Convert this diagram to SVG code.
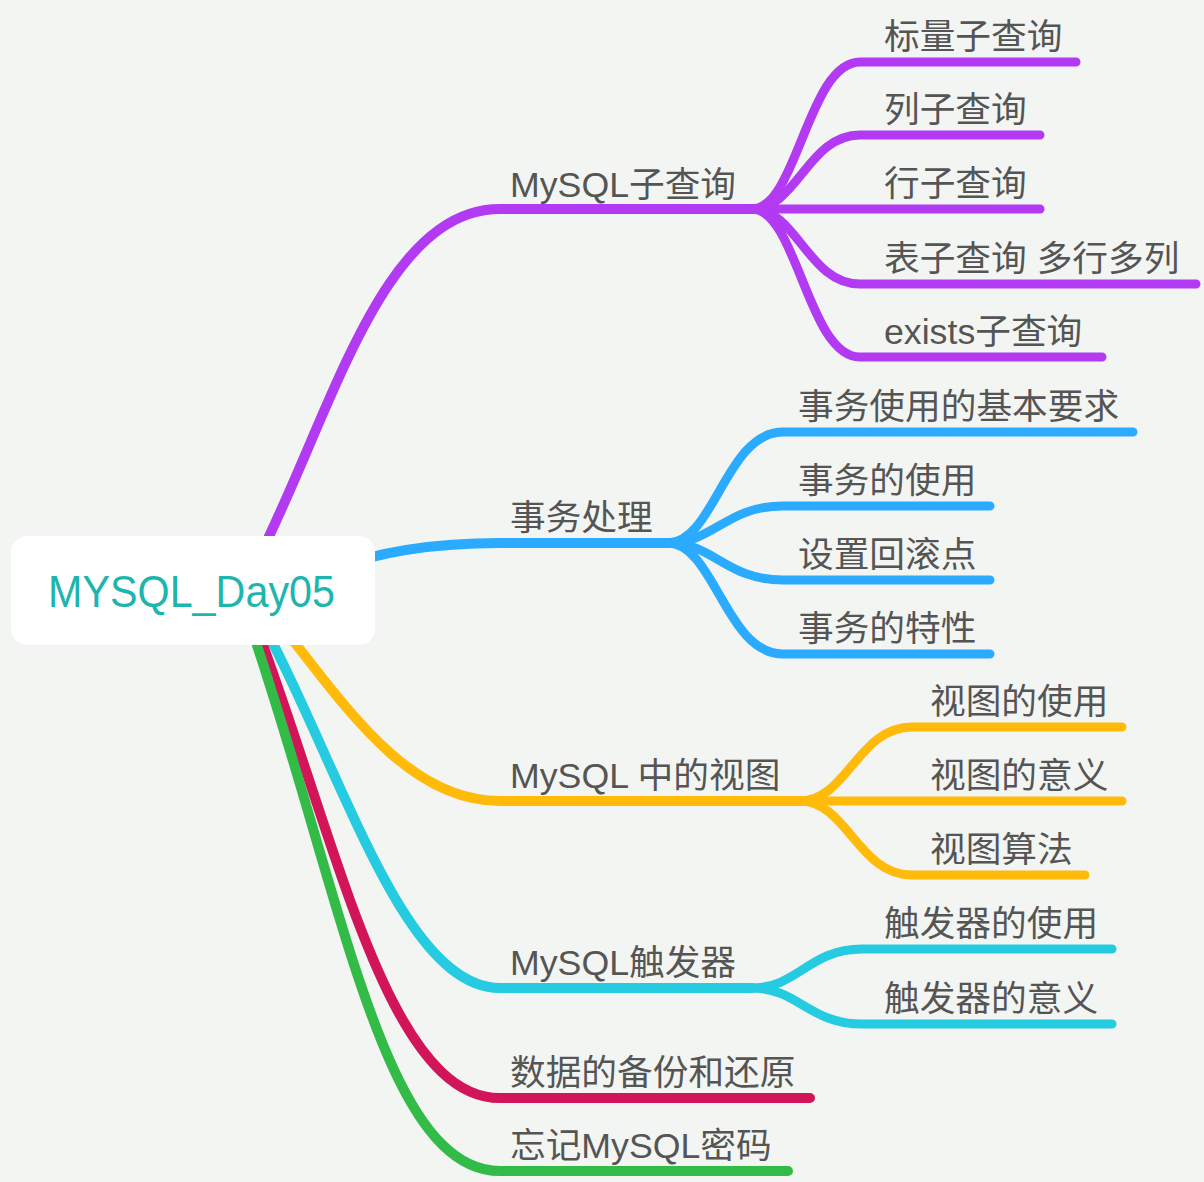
<svg xmlns="http://www.w3.org/2000/svg" width="1204" height="1182" viewBox="0 0 1204 1182">
<style>
.bg{fill:#f3f5f2}
.c{fill:none;stroke-linecap:round;stroke-linejoin:round}
.m{stroke-width:10}
.s{stroke-width:9}
.pu{stroke:#b23af2}
.bl{stroke:#2aabff}
.ye{stroke:#ffba0a}
.cy{stroke:#25cbe0}
.cr{stroke:#d11558}
.gr{stroke:#33bb48}
.t{font-family:"Liberation Sans","Noto Sans CJK SC",sans-serif;font-size:35.7px;fill:#555555}
.root-box{fill:#ffffff}
.root-t{font-family:"Liberation Sans","Noto Sans CJK SC",sans-serif;font-size:44px;fill:#1db5ad}
</style>
<rect class="bg" x="0" y="0" width="1204" height="1182"/>
<g id="connectors">
  <path class="c m pu" d="M255 565 C330 420 380 209 500 209 L752 209"/>
  <path class="c m bl" d="M330 570 Q400 543 500 543 L668 543"/>
  <path class="c m ye" d="M265 605 C335 690 400 801 500 801 L800 801"/>
  <path class="c m cy" d="M250 600 C340 760 400 988 500 988 L752 988"/>
  <path class="c m cr" d="M250 610 C335 830 385 1098 500 1098 L810 1098"/>
  <path class="c m gr" d="M245 610 C340 880 380 1171 500 1171 L788 1171"/>
  <path class="c s pu" d="M752 209 C797 209 808 62 860 62 L1076 62"/>
  <path class="c s pu" d="M752 209 C797 209 808 135 860 135 L1040 135"/>
  <path class="c s pu" d="M752 209 L1040 209"/>
  <path class="c s pu" d="M752 209 C797 209 808 284 860 284 L1196 284"/>
  <path class="c s pu" d="M752 209 C797 209 808 357 860 357 L1102 357"/>
  <path class="c s bl" d="M668 543 C714 543 726 432 783 432 L1133 432"/>
  <path class="c s bl" d="M668 543 C714 543 726 506 783 506 L990 506"/>
  <path class="c s bl" d="M668 543 C714 543 726 580 783 580 L990 580"/>
  <path class="c s bl" d="M668 543 C714 543 726 654 783 654 L990 654"/>
  <path class="c s ye" d="M800 801 C847 801 858 727 912 727 L1122 727"/>
  <path class="c s ye" d="M800 801 L1122 801"/>
  <path class="c s ye" d="M800 801 C847 801 858 875 912 875 L1085 875"/>
  <path class="c s cy" d="M752 988 C798 988 809 949 862 949 L1112 949"/>
  <path class="c s cy" d="M752 988 C798 988 809 1024 862 1024 L1112 1024"/>
</g>
<g id="root">
  <rect class="root-box" x="11" y="536" width="364" height="109" rx="16"/>
  <text class="root-t" x="48" y="607" textLength="287" lengthAdjust="spacingAndGlyphs">MYSQL_Day05</text>
</g>
<g id="n-subquery"><text class="t" x="510" y="197">MySQL子查询</text></g>
<g id="n-scalar"><text class="t" x="884" y="49">标量子查询</text></g>
<g id="n-column"><text class="t" x="884" y="122">列子查询</text></g>
<g id="n-row"><text class="t" x="884" y="196">行子查询</text></g>
<g id="n-table"><text class="t" x="884" y="271">表子查询 多行多列</text></g>
<g id="n-exists"><text class="t" x="884" y="344">exists子查询</text></g>
<g id="n-tx"><text class="t" x="510" y="530">事务处理</text></g>
<g id="n-tx-req"><text class="t" x="798" y="419">事务使用的基本要求</text></g>
<g id="n-tx-use"><text class="t" x="798" y="493">事务的使用</text></g>
<g id="n-tx-save"><text class="t" x="798" y="567">设置回滚点</text></g>
<g id="n-tx-prop"><text class="t" x="798" y="641">事务的特性</text></g>
<g id="n-view"><text class="t" x="510" y="788">MySQL 中的视图</text></g>
<g id="n-view-use"><text class="t" x="930" y="714">视图的使用</text></g>
<g id="n-view-mean"><text class="t" x="930" y="788">视图的意义</text></g>
<g id="n-view-alg"><text class="t" x="930" y="862">视图算法</text></g>
<g id="n-trigger"><text class="t" x="510" y="975">MySQL触发器</text></g>
<g id="n-trig-use"><text class="t" x="884" y="936">触发器的使用</text></g>
<g id="n-trig-mean"><text class="t" x="884" y="1011">触发器的意义</text></g>
<g id="n-backup"><text class="t" x="510" y="1085">数据的备份和还原</text></g>
<g id="n-forgot"><text class="t" x="510" y="1158">忘记MySQL密码</text></g>
</svg>
